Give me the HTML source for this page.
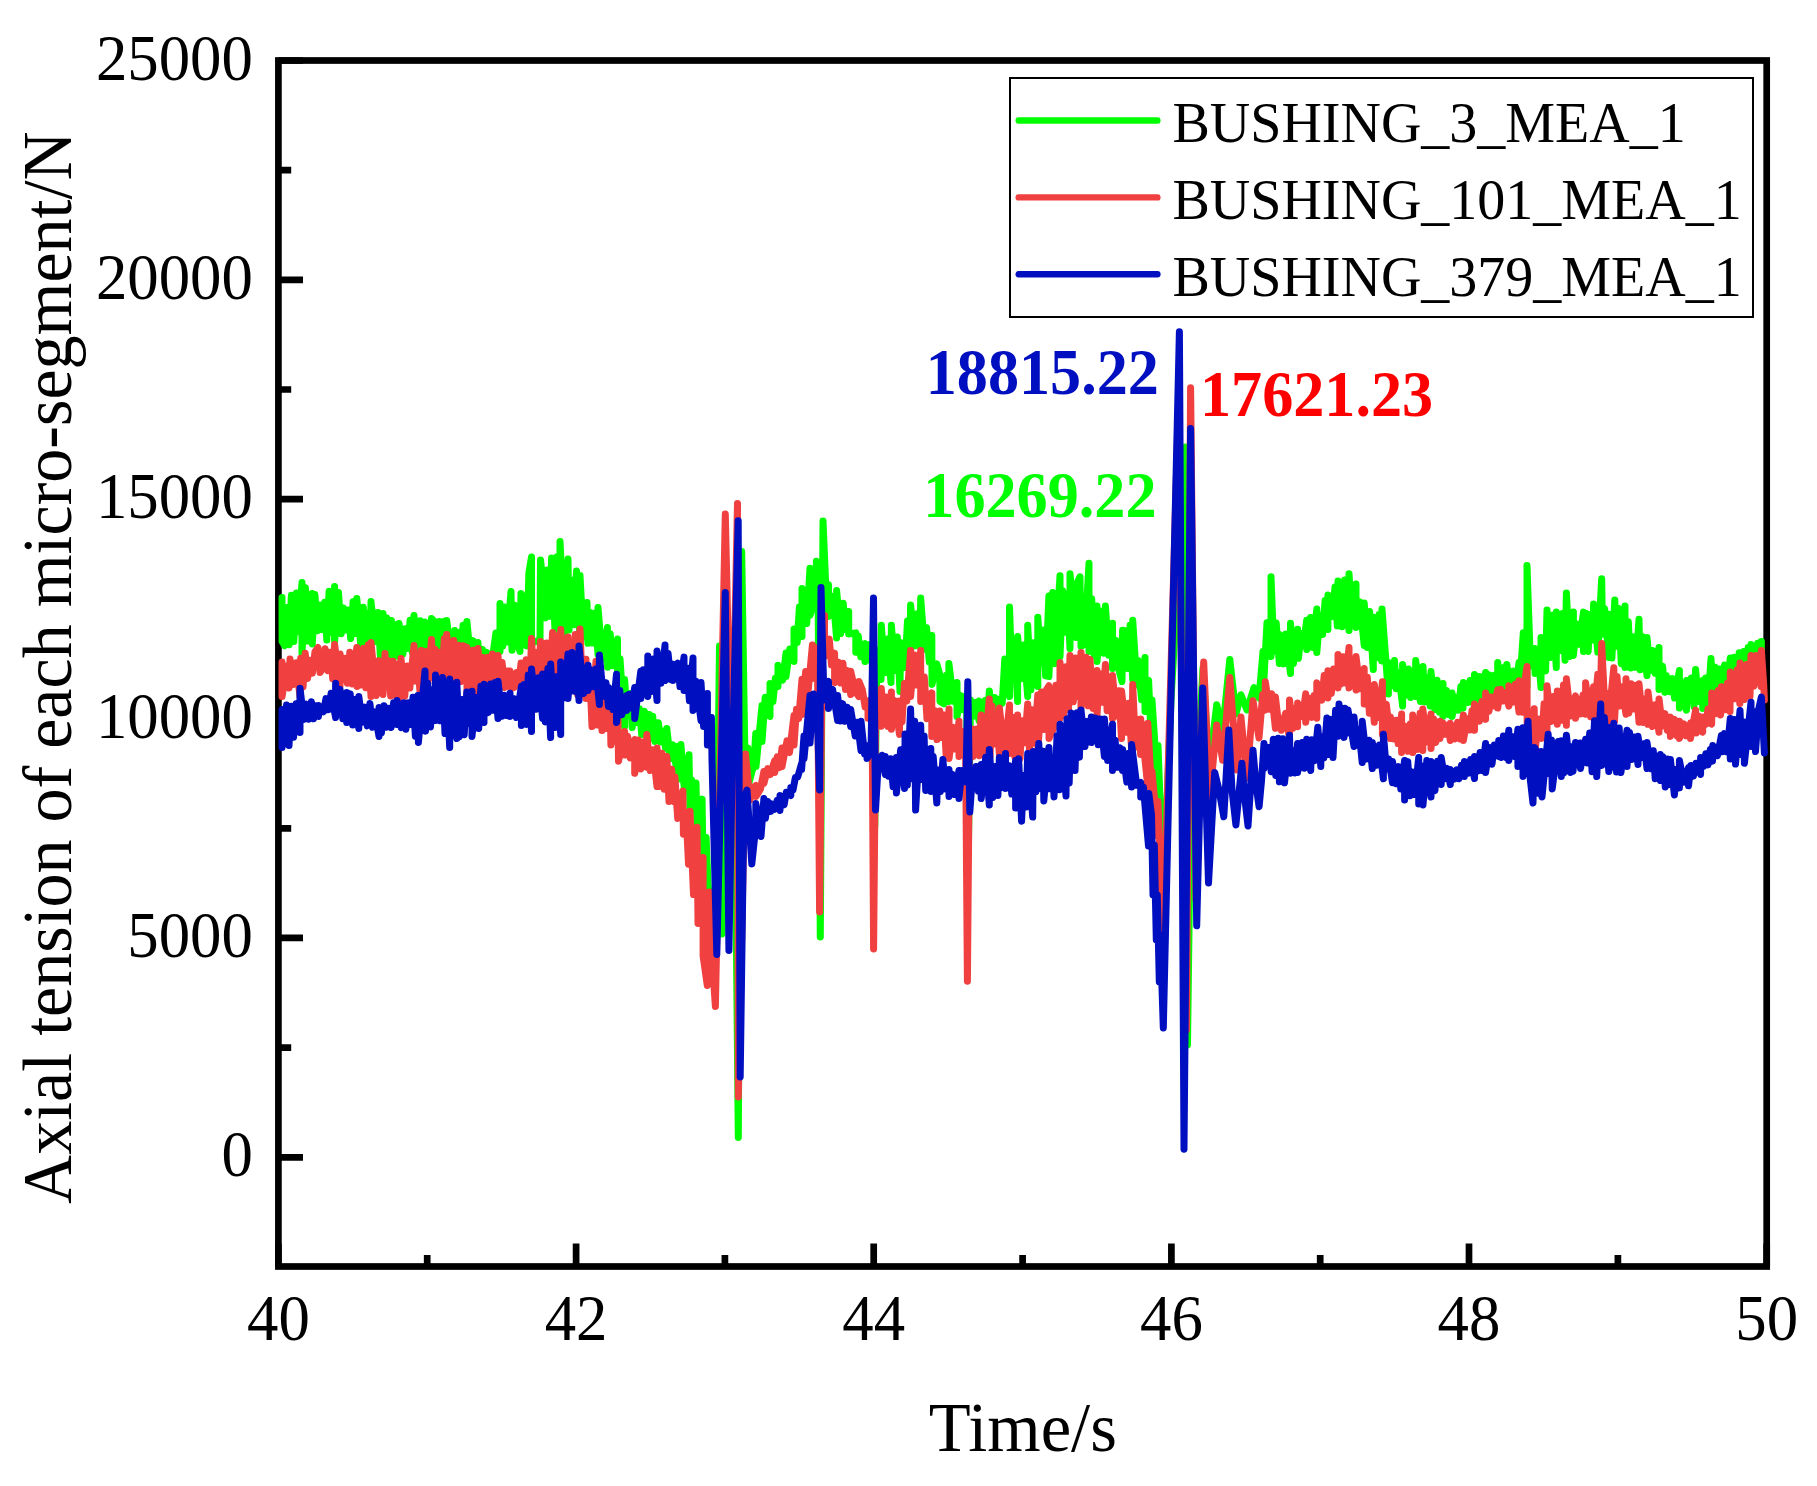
<!DOCTYPE html>
<html><head><meta charset="utf-8"><title>Axial tension of each micro-segment</title>
<style>
html,body{margin:0;padding:0;background:#fff;}
svg{display:block;}
text{font-family:"Liberation Serif",serif;fill:#000;}
.tk{font-size:62.8px;}
.ax{font-size:68.6px;}
.lg{font-size:56.0px;}
.an{font-size:62.2px;font-weight:bold;}
.c{fill:none;stroke-width:7.0;stroke-linejoin:round;stroke-linecap:round;}
</style></head><body>
<svg width="1817" height="1486" viewBox="0 0 1817 1486">
<rect x="0" y="0" width="1817" height="1486" fill="#fff"/>
<rect x="278.4" y="60.5" width="1488.3" height="1206.0" fill="none" stroke="#000" stroke-width="6.7"/>
<path d="M278.4,1157.3 H303 M278.4,937.9 H303 M278.4,718.6 H303 M278.4,499.2 H303 M278.4,279.9 H303 M278.4,60.5 H303 M278.4,1047.6 H291.2 M278.4,828.3 H291.2 M278.4,608.9 H291.2 M278.4,389.5 H291.2 M278.4,170.2 H291.2 M278.4,1266.5 V1243.4 M576.1,1266.5 V1243.4 M873.7,1266.5 V1243.4 M1171.4,1266.5 V1243.4 M1469.0,1266.5 V1243.4 M1766.7,1266.5 V1243.4 M427.2,1266.5 V1255 M724.9,1266.5 V1255 M1022.6,1266.5 V1255 M1320.2,1266.5 V1255 M1617.9,1266.5 V1255" stroke="#000" stroke-width="6.7" fill="none"/>
<polyline class="c" stroke="#00ff00" points="282.0,597.5 282.0,597.5 282.1,641.5 284.6,645.7 286.9,607.6 289.1,644.8 291.4,595.3 293.8,641.6 296.5,593.0 298.6,631.7 302.0,582.5 302.0,653.5 305.4,587.8 307.7,641.1 312.0,593.5 312.3,644.1 314.9,594.5 317.4,630.7 319.8,604.9 322.1,629.7 324.7,602.3 326.8,640.0 329.1,591.2 331.6,632.5 334.6,586.5 334.6,641.5 338.5,592.4 341.2,633.7 343.4,608.1 346.0,630.1 348.2,610.0 350.7,638.6 353.1,601.7 355.7,633.6 356.8,598.5 360.7,644.4 363.3,607.2 365.7,642.6 368.0,613.1 370.5,647.8 371.0,601.5 375.3,641.4 377.9,612.4 380.4,656.6 383.0,613.5 383.0,657.5 386.8,618.1 389.0,655.1 391.4,620.6 393.5,656.8 395.7,624.8 398.1,656.6 399.0,623.5 402.9,654.1 405.4,628.7 407.7,648.4 410.1,620.3 412.4,652.6 414.0,615.5 417.6,653.0 420.2,620.7 422.7,654.1 424.8,622.1 427.4,651.5 430.0,661.5 431.5,618.5 434.5,621.7 436.8,660.6 439.3,621.6 441.6,648.6 443.7,621.4 446.4,653.5 446.7,620.5 451.3,657.2 454.7,630.5 456.1,656.3 458.3,632.5 460.8,650.0 463.1,625.3 465.8,647.8 466.9,621.5 470.6,658.7 473.2,640.6 475.5,653.0 478.0,642.5 478.0,658.5 482.4,649.4 484.7,656.9 486.8,652.4 488.9,660.0 492.0,656.5 492.0,661.5 495.9,633.0 500.0,651.5 500.0,603.5 502.7,646.0 504.8,607.1 507.2,642.1 511.0,591.5 512.0,650.2 514.5,605.2 517.0,642.3 520.0,651.5 521.0,593.5 524.0,599.2 526.6,645.9 528.9,572.8 531.5,557.0 531.6,642.8 536.2,641.3 540.0,641.5 540.5,560.0 543.1,583.1 545.3,617.9 547.4,569.9 550.0,616.3 551.6,558.0 555.0,630.0 557.1,556.8 560.0,636.5 560.0,541.5 564.6,633.3 568.0,559.1 569.0,630.0 571.6,580.2 574.2,624.8 576.5,570.9 580.0,638.5 580.0,575.5 583.3,637.1 587.0,602.5 587.9,643.3 590.3,612.6 592.8,643.1 595.2,613.1 598.0,654.5 598.0,607.5 602.3,659.3 607.4,627.5 607.6,667.3 610.2,633.8 612.8,665.7 617.5,639.0 617.5,686.5 620.0,658.8 624.6,726.5 624.6,679.5 627.1,715.9 630.7,693.5 632.2,727.5 634.8,706.4 637.2,722.5 639.5,708.8 641.7,734.6 644.4,711.3 646.8,734.0 649.1,714.5 651.2,738.5 652.7,716.3 655.0,741.5 658.4,722.7 660.6,742.0 663.2,731.4 665.6,748.3 666.8,728.5 670.2,758.5 672.7,744.8 677.0,771.5 677.7,746.4 680.1,779.1 680.9,744.5 684.5,791.0 689.0,754.7 690.0,811.5 691.6,780.1 694.2,808.3 696.0,782.9 697.0,831.5 702.1,799.1 703.0,866.5 706.1,837.4 709.0,906.5 711.0,890.0 713.0,928.0 716.0,935.0 719.5,646.0 722.0,934.0 726.0,800.0 731.5,735.0 735.0,800.0 738.3,1137.5 741.7,551.5 745.0,762.0 747.8,748.0 748.0,786.5 753.7,765.2 755.8,733.5 756.0,766.5 762.0,705.5 762.0,741.5 765.2,697.3 770.0,716.5 770.0,683.5 772.9,701.8 775.4,678.2 778.0,686.5 778.0,665.2 782.7,680.1 786.0,653.1 786.0,676.5 789.8,649.1 794.0,661.5 794.0,628.9 797.2,642.5 799.4,607.0 802.0,636.5 802.0,588.5 806.7,623.6 810.0,568.3 810.0,615.5 816.0,596.5 816.4,561.2 818.0,578.0 820.3,937.0 823.0,521.0 826.0,592.0 828.5,584.5 828.5,616.5 833.1,596.2 836.6,638.0 836.6,590.5 840.6,633.6 843.2,603.2 845.6,629.6 848.7,611.5 848.7,634.0 855.8,632.9 855.8,652.2 858.2,635.8 860.8,656.8 865.0,643.5 865.0,661.5 868.1,644.7 870.6,660.4 873.0,650.0 874.8,826.0 877.0,650.0 881.0,679.5 881.3,625.3 884.8,672.7 887.4,639.1 891.0,682.5 891.4,625.3 894.7,670.5 897.3,637.0 900.0,691.5 900.5,642.5 905.0,667.5 907.5,621.0 910.0,646.5 910.6,605.1 914.6,645.9 917.2,613.7 920.0,646.5 920.7,598.0 924.5,649.2 926.6,627.8 929.3,662.1 931.8,635.4 932.0,684.5 936.8,663.9 939.8,674.5 940.0,701.5 943.9,703.8 946.5,675.2 948.7,701.4 948.9,663.5 953.4,701.3 957.0,682.5 957.0,716.5 961.1,695.6 963.7,709.7 966.0,696.2 966.5,700.0 968.4,847.5 970.5,700.0 973.4,716.2 975.6,702.5 979.0,720.5 979.0,701.0 983.2,720.5 985.5,700.3 987.6,718.5 989.3,690.9 992.2,718.8 994.7,697.6 999.0,721.5 999.4,699.0 1002.2,703.4 1004.8,659.0 1009.5,696.5 1009.5,607.1 1012.1,679.4 1014.2,639.2 1017.6,701.5 1017.6,636.4 1021.1,678.7 1023.6,645.1 1027.7,696.5 1027.7,625.3 1030.9,689.7 1033.4,642.8 1037.8,686.5 1037.8,617.2 1040.5,662.7 1043.0,630.0 1045.6,675.9 1048.9,596.0 1048.9,676.5 1052.7,592.4 1054.8,663.7 1060.0,575.8 1060.0,656.5 1062.7,590.7 1065.2,632.3 1067.6,593.9 1070.0,648.5 1070.0,573.8 1076.0,637.5 1076.9,583.5 1080.0,576.8 1081.0,646.5 1084.5,644.3 1089.0,563.3 1089.0,651.5 1091.7,598.8 1094.2,655.4 1097.0,606.1 1097.0,661.5 1101.5,611.3 1103.7,653.3 1105.4,606.1 1108.8,655.3 1112.5,623.3 1112.5,668.5 1115.9,640.5 1118.1,666.6 1122.0,681.5 1122.6,630.3 1125.1,630.7 1127.6,668.5 1130.1,625.2 1132.7,679.5 1132.7,620.2 1136.9,684.9 1138.0,660.5 1141.6,699.7 1145.0,657.5 1145.0,711.5 1148.6,680.6 1152.0,756.5 1152.0,700.0 1158.0,791.5 1158.0,745.5 1160.0,800.0 1163.5,869.0 1167.5,790.0 1171.0,700.0 1185.5,447.0 1187.5,1045.0 1192.0,700.0 1198.0,760.0 1203.0,668.0 1209.0,770.0 1216.7,704.8 1222.7,730.0 1229.8,659.4 1235.9,714.0 1240.9,694.7 1247.0,710.0 1254.0,687.6 1259.0,698.0 1263.0,651.5 1263.0,696.5 1267.0,622.7 1271.0,656.5 1271.0,576.8 1273.9,651.2 1276.2,623.1 1279.4,663.5 1279.4,634.4 1283.6,663.9 1285.8,634.1 1290.5,673.5 1290.5,623.3 1293.4,663.7 1297.6,629.3 1298.4,658.3 1301.1,633.5 1303.4,645.2 1306.7,620.2 1306.7,649.5 1310.6,617.5 1312.8,647.5 1316.8,609.1 1316.8,652.5 1320.0,615.0 1322.6,634.6 1325.1,600.6 1327.9,629.5 1327.9,595.0 1332.4,616.6 1335.0,587.1 1337.3,626.0 1338.0,580.9 1342.1,626.7 1344.7,580.0 1349.0,630.5 1349.0,573.8 1352.1,622.1 1356.0,583.9 1356.0,627.5 1359.7,601.6 1364.2,645.5 1364.2,603.1 1367.3,647.6 1369.6,611.6 1373.3,669.5 1373.3,617.2 1376.5,657.6 1379.1,614.4 1381.6,660.9 1382.0,609.1 1388.4,694.0 1388.4,662.5 1391.7,685.8 1394.5,660.5 1396.2,688.7 1398.8,672.7 1402.6,706.1 1402.6,664.5 1406.2,695.3 1408.6,669.1 1410.7,697.5 1412.9,671.3 1415.6,696.4 1415.7,660.5 1420.4,701.4 1423.0,666.5 1424.8,702.1 1427.6,677.7 1430.2,705.9 1431.0,671.5 1434.8,709.6 1437.1,680.3 1439.5,712.3 1443.0,683.5 1443.0,716.5 1446.6,690.5 1449.1,714.7 1452.0,692.9 1452.0,716.5 1456.0,697.4 1458.3,710.2 1460.9,686.4 1463.0,708.2 1463.4,682.5 1467.8,702.5 1470.1,680.4 1474.5,708.5 1474.5,674.5 1477.3,706.3 1479.7,676.5 1482.3,698.7 1485.6,672.5 1487.2,701.6 1489.4,675.1 1491.8,694.4 1494.3,675.3 1497.7,696.5 1497.7,662.5 1501.4,692.2 1503.8,667.4 1506.1,689.5 1506.8,664.5 1511.2,695.1 1513.6,671.0 1515.8,689.3 1519.0,662.5 1519.0,696.5 1523.3,632.8 1527.0,686.5 1527.0,565.5 1530.5,666.0 1535.0,648.5 1535.0,673.5 1538.1,651.2 1541.0,687.5 1541.0,637.5 1545.6,670.9 1547.0,610.1 1550.6,657.4 1553.1,614.9 1556.3,667.5 1556.3,612.1 1559.9,650.6 1562.5,613.5 1565.1,660.2 1566.4,593.0 1569.6,656.4 1573.4,612.1 1573.4,655.5 1576.8,623.9 1579.0,644.2 1583.5,612.1 1583.5,651.5 1585.8,613.3 1588.1,651.4 1590.5,614.3 1593.1,639.9 1593.6,604.1 1597.8,652.1 1601.7,578.8 1602.5,634.3 1604.6,608.7 1608.8,657.5 1608.8,614.2 1611.9,658.0 1614.8,600.0 1616.4,646.3 1618.6,608.5 1621.3,663.7 1625.0,606.1 1625.0,667.5 1628.3,621.8 1630.7,668.1 1632.0,636.4 1635.7,667.3 1639.0,619.2 1640.2,669.8 1642.7,636.7 1647.0,675.5 1647.0,637.5 1650.2,670.5 1652.7,650.4 1655.2,673.3 1659.0,647.5 1659.0,689.5 1662.6,666.3 1664.9,692.2 1666.3,675.5 1669.6,691.6 1672.2,678.5 1674.5,698.1 1679.4,670.5 1679.4,708.1 1681.9,683.6 1686.5,710.1 1686.5,680.5 1688.9,699.8 1691.4,678.0 1693.9,706.5 1695.6,669.5 1698.6,701.4 1702.7,680.5 1702.7,708.5 1705.7,677.9 1708.0,704.2 1711.0,658.5 1712.8,694.6 1715.2,667.3 1717.5,688.8 1720.0,669.0 1720.0,696.5 1724.6,665.0 1726.8,686.5 1730.3,657.9 1732.1,689.2 1734.3,657.3 1736.7,685.0 1739.2,652.7 1740.0,686.5 1743.7,651.5 1746.0,683.6 1748.2,647.5 1750.7,680.6 1751.0,644.5 1755.3,673.0 1757.7,643.2 1761.0,676.5 1761.4,641.5"/>
<polyline class="c" stroke="#f04040" points="282.0,662.0 282.0,696.5 282.0,662.0 282.1,696.5 286.7,666.0 289.1,688.0 290.0,659.0 293.9,684.4 296.3,662.8 300.0,696.5 300.7,658.3 303.1,686.8 305.2,653.3 307.6,678.5 309.9,660.2 312.4,673.1 315.0,651.7 318.0,647.5 320.0,672.5 322.6,668.5 325.2,648.8 327.8,670.7 330.5,652.4 332.7,678.8 334.6,644.5 340.0,686.5 340.1,654.1 342.6,679.6 344.8,658.3 347.3,683.2 349.8,652.2 352.3,683.9 356.8,647.5 357.0,686.5 359.0,650.4 361.4,684.9 363.7,648.2 365.8,687.7 368.4,644.7 371.0,696.5 371.0,642.5 376.2,695.5 378.5,660.7 383.0,694.5 385.0,653.5 385.6,683.1 388.2,660.7 390.7,696.0 393.0,661.3 395.5,695.5 397.7,663.9 399.0,698.5 401.0,658.5 404.7,696.2 407.2,666.1 409.8,688.1 414.0,645.5 414.7,681.0 416.9,654.9 420.0,691.5 421.2,650.4 423.4,689.7 425.6,651.4 427.9,682.7 431.5,639.5 432.9,677.6 435.0,649.2 437.2,684.0 439.5,652.2 442.0,682.1 444.3,638.8 445.0,686.5 446.7,634.5 451.3,682.3 453.8,640.5 456.1,686.5 458.7,645.2 461.0,681.5 463.3,645.8 466.9,647.5 467.0,698.5 470.7,685.1 473.1,650.3 475.6,695.1 478.0,648.5 480.7,689.4 482.9,657.6 485.3,683.1 487.7,657.3 490.0,696.5 492.4,653.9 495.0,684.9 498.0,655.5 499.7,685.9 502.1,662.5 504.8,687.6 507.2,671.0 510.0,671.1 511.0,688.5 514.6,687.2 516.7,672.5 519.0,682.9 521.0,663.0 523.8,677.6 526.1,659.8 530.0,686.5 531.5,638.5 533.8,679.9 536.2,652.8 538.7,677.9 540.5,641.5 544.0,674.5 546.6,642.9 550.0,676.5 552.6,632.5 554.1,677.8 556.5,636.1 560.0,686.5 560.7,629.5 563.6,678.5 568.0,636.9 568.0,682.8 570.6,645.8 573.1,675.4 575.3,634.4 577.6,694.6 580.0,628.9 582.5,694.4 586.0,659.2 586.0,698.5 589.6,669.2 592.0,726.5 596.0,661.2 597.0,725.0 599.6,683.7 602.0,730.5 604.1,685.1 606.3,728.6 610.0,693.5 610.9,744.9 613.2,716.9 615.6,741.2 617.9,715.1 618.5,761.2 624.6,731.5 624.6,755.1 627.6,736.2 630.2,757.9 634.7,739.5 634.7,773.3 638.2,740.1 640.7,768.9 642.9,742.0 646.8,767.2 646.8,734.5 650.3,770.6 652.9,749.7 657.0,786.5 657.0,748.0 659.9,786.4 662.0,753.2 664.3,789.2 666.8,756.5 669.0,801.5 671.6,769.2 674.2,801.8 674.9,776.9 677.7,818.5 682.9,791.0 683.4,834.3 686.0,812.3 688.5,864.2 690.0,811.2 693.5,894.5 697.0,827.3 698.0,923.5 703.1,857.5 703.1,956.0 707.3,985.5 709.2,891.9 711.5,950.0 715.4,1006.5 725.3,514.0 731.5,790.0 737.5,503.5 738.3,1097.0 745.5,754.0 750.0,800.0 752.8,787.7 755.8,785.5 756.0,796.5 760.4,789.2 763.9,771.5 763.9,783.5 767.7,768.6 770.2,774.6 774.7,760.5 774.7,772.5 777.3,756.9 779.5,767.6 782.0,748.0 782.0,766.5 787.0,740.9 789.5,752.6 794.0,715.5 794.0,745.0 796.5,709.2 798.7,718.6 802.0,679.3 802.0,714.5 805.7,671.4 808.3,689.7 812.4,645.0 812.4,678.5 815.0,647.4 817.5,665.0 819.6,912.0 822.5,628.0 824.5,615.5 824.5,656.5 829.3,639.2 831.5,664.9 834.6,653.1 834.6,682.5 838.5,662.2 840.7,683.1 842.9,663.2 845.5,689.5 847.8,670.6 850.7,694.5 850.7,671.3 855.2,691.1 858.8,696.5 859.0,681.5 862.4,690.1 865.1,707.0 868.0,701.0 868.0,718.2 872.0,705.0 873.6,949.0 875.8,705.0 876.8,698.5 881.3,726.3 881.3,688.5 883.6,717.6 885.7,697.1 888.1,726.4 891.4,691.9 891.4,729.3 895.1,700.7 899.5,734.4 899.5,701.0 902.0,721.7 904.5,683.5 906.8,701.1 910.6,650.5 910.6,696.5 914.6,655.0 917.1,685.1 920.7,650.5 920.7,701.5 924.3,676.9 927.0,718.7 931.8,692.9 931.8,736.5 934.4,710.5 937.0,739.6 939.8,711.1 941.7,737.6 943.9,715.0 946.1,754.8 949.0,709.1 949.0,758.5 953.4,727.4 955.5,749.1 959.0,721.2 959.0,756.5 963.0,731.5 965.5,735.0 967.4,981.3 969.5,735.0 973.0,729.2 973.0,756.5 977.0,729.1 979.4,755.7 981.0,715.1 984.4,755.0 989.3,699.0 990.0,756.5 992.0,706.0 994.4,744.0 996.8,720.9 999.4,754.5 999.4,708.0 1004.6,752.6 1009.5,705.0 1009.8,753.4 1012.4,717.3 1014.9,756.8 1017.6,715.1 1020.0,758.5 1022.2,720.7 1024.5,742.8 1027.7,704.0 1029.5,750.9 1031.7,709.7 1034.1,743.3 1037.8,694.9 1038.0,748.5 1041.6,691.9 1043.7,729.6 1045.8,690.9 1048.9,685.8 1049.0,738.5 1053.4,728.9 1056.0,685.2 1060.0,718.5 1060.0,662.5 1063.5,715.5 1066.1,666.8 1068.5,709.4 1070.0,655.5 1073.3,701.8 1075.5,658.0 1078.2,696.5 1081.0,652.5 1081.0,708.5 1085.9,657.3 1088.2,705.8 1090.0,659.5 1093.2,708.4 1097.0,670.5 1097.0,714.5 1100.0,673.8 1102.6,702.3 1105.4,664.5 1107.1,710.7 1109.5,677.6 1112.5,718.5 1112.5,675.5 1116.3,716.1 1118.9,690.8 1121.5,738.5 1121.5,690.9 1126.3,732.2 1128.6,703.2 1132.0,754.5 1132.7,684.5 1135.5,747.0 1138.1,719.4 1140.7,754.5 1140.7,719.1 1147.8,786.5 1147.8,723.2 1152.0,799.0 1152.0,771.5 1158.0,836.5 1158.0,801.5 1160.0,860.0 1163.3,940.0 1178.0,420.0 1186.5,1030.0 1190.6,387.7 1196.0,900.0 1203.7,662.0 1209.6,798.5 1216.7,725.0 1222.7,760.3 1229.8,677.5 1236.9,770.0 1240.9,716.9 1247.0,778.0 1253.0,700.7 1259.0,738.0 1262.7,694.6 1265.3,710.1 1265.3,681.8 1269.5,709.3 1271.7,693.8 1275.4,728.3 1275.4,696.9 1278.5,723.5 1281.4,719.1 1281.4,730.3 1285.6,713.3 1289.5,738.5 1289.5,700.0 1293.0,728.2 1295.2,708.6 1297.6,726.7 1297.6,703.0 1302.5,716.7 1305.7,693.9 1305.7,722.2 1309.5,698.2 1312.0,717.4 1314.1,695.5 1316.8,718.2 1316.8,682.8 1321.8,700.2 1324.2,675.6 1327.9,698.0 1327.9,670.7 1331.3,693.6 1333.6,669.0 1338.0,687.9 1338.0,654.5 1340.8,684.0 1343.1,656.7 1345.4,683.0 1349.0,647.5 1349.0,687.9 1352.7,660.7 1356.0,689.9 1356.0,656.5 1360.0,688.8 1364.2,668.5 1364.2,704.1 1367.3,677.2 1369.4,713.3 1371.8,691.7 1374.3,722.2 1374.3,684.5 1379.1,717.5 1382.4,681.8 1382.4,734.4 1386.3,704.1 1390.4,738.5 1390.4,717.1 1393.9,739.0 1396.1,720.2 1398.2,743.6 1401.6,714.1 1401.6,752.5 1405.3,726.3 1408.0,751.3 1410.2,724.1 1412.7,752.5 1412.7,715.1 1417.6,749.4 1420.1,713.2 1422.8,750.5 1422.8,709.1 1427.0,742.1 1431.0,714.1 1431.0,748.5 1433.7,718.9 1435.8,742.4 1440.0,721.2 1440.0,738.5 1442.8,722.7 1445.2,734.2 1447.8,725.1 1450.3,740.5 1450.3,723.2 1455.0,738.9 1457.6,722.3 1460.1,738.9 1463.4,715.1 1463.4,740.5 1467.2,718.6 1469.9,730.0 1472.0,710.7 1474.5,730.3 1474.5,704.0 1479.4,721.2 1481.9,701.4 1485.6,719.2 1485.6,692.9 1489.0,711.2 1491.4,697.0 1493.9,705.8 1497.7,689.9 1497.7,708.1 1500.7,689.3 1503.3,701.0 1505.8,692.5 1508.8,706.1 1508.8,685.8 1512.9,702.1 1515.4,684.3 1519.0,712.1 1519.0,680.8 1522.4,712.2 1524.6,683.0 1527.0,666.5 1527.2,729.8 1531.9,734.8 1534.2,708.8 1535.0,750.5 1539.0,719.1 1541.7,738.4 1544.1,703.8 1547.0,736.4 1547.0,685.8 1551.0,721.4 1553.5,696.5 1557.3,724.3 1557.3,690.9 1561.0,720.4 1563.5,685.1 1566.4,725.3 1566.4,678.8 1570.6,716.0 1575.5,695.9 1575.5,718.2 1578.1,699.2 1580.4,714.0 1583.0,695.0 1585.6,714.2 1585.6,682.8 1590.6,716.7 1593.6,686.8 1593.6,718.2 1597.8,674.3 1600.0,711.1 1601.7,643.5 1605.0,711.3 1607.8,693.5 1607.8,728.3 1613.8,667.7 1614.5,721.0 1617.0,676.6 1619.4,706.0 1621.6,686.8 1626.0,714.2 1626.0,678.8 1628.8,712.9 1631.1,683.7 1633.8,708.9 1636.1,685.2 1639.0,722.2 1639.0,683.8 1643.1,722.5 1645.6,698.8 1648.0,724.3 1648.0,691.9 1652.4,726.6 1655.1,704.7 1659.0,732.3 1659.0,699.0 1662.4,726.1 1665.0,713.6 1667.3,730.4 1670.4,717.1 1670.4,736.4 1674.5,719.4 1677.1,736.0 1679.4,721.2 1679.4,738.5 1683.8,723.9 1686.2,735.7 1690.5,723.2 1690.5,738.5 1695.6,710.1 1696.2,733.0 1698.5,716.0 1702.7,732.3 1702.7,717.1 1705.9,724.2 1708.0,709.0 1711.7,724.3 1711.7,692.9 1715.6,713.8 1718.2,690.6 1720.5,715.0 1721.4,686.7 1725.3,709.8 1727.4,683.2 1730.0,711.5 1730.3,671.9 1734.8,698.7 1737.2,669.8 1739.8,703.4 1740.0,663.0 1744.4,699.6 1746.6,664.4 1750.0,696.5 1751.0,655.5 1753.7,686.1 1756.2,655.6 1761.0,686.5 1761.4,650.5 1763.7,684.5 1764.4,700.0"/>
<polyline class="c" stroke="#0010c0" points="282.0,709.5 282.0,747.5 282.0,709.5 282.1,747.5 286.5,705.0 289.0,745.5 291.1,706.3 293.6,737.2 296.2,703.7 300.0,732.5 300.0,688.2 303.8,719.6 306.4,704.1 308.7,719.3 311.4,701.8 313.6,718.8 315.9,705.7 318.5,716.5 318.5,705.5 323.3,711.7 326.0,698.6 328.6,709.7 331.1,693.2 335.6,717.5 335.6,683.2 338.0,712.2 340.1,689.5 342.8,718.8 346.7,692.5 346.7,722.5 350.2,693.9 352.7,724.9 355.0,699.5 358.8,728.5 358.8,696.5 362.2,722.2 364.7,707.1 367.3,725.9 369.9,703.4 372.5,727.3 374.7,711.9 379.0,736.5 379.0,707.5 381.4,732.9 384.0,705.7 386.5,727.3 388.8,708.2 391.2,727.5 393.6,702.8 397.0,724.5 397.0,700.5 401.3,727.6 403.7,702.7 405.9,729.2 408.3,702.8 410.6,724.5 413.0,697.2 415.4,736.4 418.0,695.5 418.4,742.5 425.0,671.1 425.5,731.2 427.8,683.2 430.5,726.9 433.1,689.8 435.5,720.5 435.5,675.1 440.2,720.8 442.5,677.5 445.0,733.6 447.1,694.6 449.7,747.5 449.7,679.1 456.8,738.5 456.8,682.2 459.3,736.8 461.9,699.6 464.2,734.8 466.8,692.1 469.5,723.6 472.0,691.3 472.0,736.5 476.1,697.6 478.7,728.5 480.9,686.3 484.0,722.5 484.0,684.2 488.3,712.6 490.6,684.0 492.8,710.3 495.1,682.5 498.0,718.5 498.0,681.2 502.1,716.2 504.6,695.3 507.0,715.6 510.0,693.3 510.0,716.5 514.2,698.7 516.4,717.5 521.4,686.2 521.4,725.5 524.0,684.4 526.2,724.4 528.3,675.1 531.5,731.5 531.5,669.1 536.0,709.2 538.5,677.8 542.6,718.5 542.6,674.1 545.3,721.9 547.9,668.5 550.6,737.5 550.6,664.0 554.8,727.6 557.2,676.6 560.7,734.5 560.7,662.0 564.7,697.8 568.0,654.1 568.0,698.5 572.1,652.4 574.3,691.2 576.5,664.0 579.0,700.5 579.0,646.0 583.7,693.4 588.0,665.2 588.0,690.5 591.0,669.9 593.4,686.8 595.8,669.1 599.4,704.5 599.4,655.1 603.3,696.3 606.0,682.8 608.5,706.5 608.5,687.5 613.0,709.5 616.5,674.3 616.5,722.5 619.8,690.5 621.9,714.7 626.6,695.5 626.6,710.5 629.2,694.3 631.3,707.9 634.7,687.5 634.7,718.5 640.8,671.3 640.8,698.5 643.3,669.8 647.8,696.5 647.8,656.1 650.7,691.7 653.3,658.9 657.0,700.5 657.0,651.1 661.0,683.3 665.0,645.0 665.0,680.5 668.1,653.5 670.7,679.4 673.0,664.2 673.0,680.5 677.8,663.1 680.0,686.6 684.0,657.1 684.0,690.5 686.9,667.9 689.4,700.7 693.0,658.1 693.0,710.5 695.9,681.0 701.0,720.5 701.0,682.4 703.6,726.6 707.4,693.5 707.4,745.0 711.4,717.5 712.0,760.0 716.8,954.5 725.3,592.5 728.9,950.4 732.5,752.0 738.2,520.7 740.2,1077.0 744.0,800.0 747.0,790.0 751.8,864.0 755.8,826.5 755.8,803.5 761.0,836.5 763.9,798.5 765.4,818.3 767.8,801.5 770.6,811.5 770.6,803.5 774.7,809.2 777.1,800.4 780.0,810.5 780.0,795.5 784.1,804.9 786.3,792.3 790.8,795.5 790.8,787.5 793.0,790.1 795.4,777.4 797.7,777.1 801.6,763.5 801.6,769.5 804.0,735.9 804.0,758.5 810.0,695.5 810.0,743.0 813.6,693.9 817.5,720.0 819.6,790.0 821.0,587.5 824.0,700.0 828.5,681.4 828.5,708.5 832.6,689.4 837.6,720.5 837.6,695.5 840.3,721.0 842.7,703.6 845.0,721.3 847.3,707.2 850.7,726.5 850.7,709.5 855.2,736.0 857.4,722.3 861.0,750.5 861.0,721.2 864.5,753.8 867.0,745.5 867.0,758.5 871.0,752.0 873.5,598.0 875.5,810.0 878.0,768.0 879.5,764.5 882.0,755.2 885.3,774.5 885.3,756.5 888.5,776.3 890.6,758.7 893.1,786.7 896.4,757.5 896.4,792.9 900.7,749.7 904.5,788.5 905.1,734.0 907.3,785.2 910.6,709.1 912.1,778.8 914.7,721.3 915.6,810.1 920.7,725.2 922.0,779.6 924.1,736.1 925.7,790.5 930.8,748.5 930.9,791.6 933.2,756.4 936.8,803.0 937.9,770.0 940.4,791.5 942.9,759.5 945.4,789.0 949.0,769.5 949.0,796.5 952.2,774.3 954.6,794.6 959.0,770.5 959.0,798.5 961.7,770.6 966.0,782.0 967.8,681.8 969.8,812.0 972.0,782.0 973.5,788.4 976.1,766.4 978.4,791.3 981.2,764.5 981.2,798.5 985.7,757.3 989.3,805.0 989.3,749.5 992.8,797.6 995.2,766.4 997.9,795.5 999.4,757.5 1002.1,787.6 1005.5,753.5 1005.5,788.5 1009.1,765.8 1011.8,794.1 1015.6,760.5 1015.6,808.1 1018.6,758.8 1021.6,821.2 1023.5,775.6 1026.1,807.1 1027.7,753.5 1032.7,817.1 1033.3,751.4 1035.9,791.8 1038.8,743.4 1040.5,788.4 1043.1,751.2 1043.8,801.0 1048.9,747.4 1050.0,788.8 1052.4,758.0 1054.0,796.9 1057.1,735.8 1059.4,789.7 1060.0,724.2 1066.0,795.9 1067.0,718.9 1069.2,783.0 1071.0,713.1 1075.0,770.5 1077.1,712.7 1079.4,757.2 1081.0,710.1 1085.0,746.5 1086.5,721.5 1088.6,742.0 1091.3,717.1 1091.3,742.5 1095.9,718.1 1098.2,744.8 1100.4,718.9 1104.4,756.5 1104.4,719.1 1107.6,760.6 1112.5,724.2 1112.5,770.5 1115.1,740.2 1117.5,767.3 1119.9,747.7 1122.4,770.4 1122.6,749.5 1126.8,782.0 1128.9,753.3 1131.6,786.9 1131.6,744.5 1136.7,785.3 1140.7,782.5 1140.7,796.9 1143.4,787.1 1148.5,846.0 1148.8,793.5 1151.5,815.0 1153.0,895.0 1154.3,845.0 1156.3,940.0 1157.3,895.0 1159.3,982.0 1160.3,935.0 1163.3,1028.0 1179.4,331.7 1184.0,1149.2 1190.6,428.5 1196.7,925.8 1202.7,688.0 1208.5,883.0 1214.7,772.4 1219.0,790.0 1223.8,816.8 1228.8,730.0 1232.0,790.0 1235.9,824.9 1241.9,763.3 1245.0,800.0 1248.0,825.9 1253.0,750.2 1256.0,785.0 1259.1,806.8 1261.5,780.9 1264.0,743.4 1264.0,768.5 1268.7,747.5 1271.2,771.7 1273.3,739.3 1275.8,775.4 1278.3,738.2 1279.4,781.8 1282.8,738.7 1284.5,782.8 1289.5,735.3 1290.4,773.2 1292.7,750.6 1294.9,773.0 1297.6,743.4 1297.6,772.5 1302.2,742.5 1304.3,768.2 1306.7,739.3 1310.7,770.5 1311.7,739.7 1314.4,760.8 1317.8,727.2 1320.8,766.5 1321.1,736.6 1323.8,758.1 1326.9,718.1 1328.1,754.6 1330.7,719.4 1333.0,757.5 1335.6,710.2 1337.9,736.3 1339.0,704.0 1344.0,737.4 1344.7,708.2 1347.0,733.2 1348.0,710.1 1354.0,746.5 1354.0,717.1 1356.7,745.3 1358.9,730.1 1362.2,762.5 1362.2,721.2 1366.5,758.9 1369.2,740.2 1372.3,768.5 1372.3,742.4 1376.8,765.3 1379.4,745.1 1383.4,778.8 1383.4,734.3 1386.3,769.1 1388.7,759.0 1392.5,782.8 1392.5,761.5 1396.2,783.8 1398.7,766.6 1400.8,788.9 1404.6,760.5 1404.6,800.0 1407.8,761.8 1410.0,795.8 1412.1,772.0 1414.8,794.5 1418.7,757.5 1418.7,804.0 1422.0,766.0 1423.0,805.0 1426.8,760.5 1431.0,797.0 1431.0,761.5 1434.9,790.7 1437.6,761.2 1441.2,784.5 1441.2,757.5 1444.8,778.9 1447.1,768.3 1450.3,784.5 1450.3,769.5 1453.9,779.3 1456.6,769.8 1458.9,778.8 1461.4,765.4 1464.4,776.5 1464.4,761.5 1468.4,773.2 1470.6,759.6 1474.5,778.5 1474.5,756.5 1477.8,771.1 1480.1,752.5 1482.3,770.6 1485.6,743.4 1485.6,772.5 1489.5,747.5 1492.0,764.2 1494.3,745.0 1498.7,756.5 1498.7,740.4 1501.3,757.5 1503.4,736.1 1505.9,757.4 1508.8,730.3 1508.8,760.5 1512.9,736.8 1515.0,756.6 1517.9,729.2 1517.9,766.5 1522.9,727.8 1523.0,776.5 1528.0,721.2 1529.8,775.2 1533.0,803.0 1534.5,747.5 1537.0,752.2 1539.1,793.6 1541.0,751.5 1542.0,797.0 1548.2,734.3 1549.3,773.7 1551.4,740.1 1552.2,788.9 1558.3,741.4 1561.3,776.5 1561.5,740.8 1563.7,773.0 1566.4,735.3 1570.4,772.5 1570.7,746.6 1573.0,771.2 1575.5,742.4 1577.8,764.7 1580.2,743.0 1580.5,768.5 1585.6,739.3 1587.2,763.1 1589.7,733.0 1592.1,771.7 1594.5,720.8 1596.7,776.5 1600.7,704.0 1601.7,765.4 1604.3,717.4 1608.8,771.5 1609.3,727.4 1611.5,767.4 1613.8,723.2 1616.5,772.1 1619.2,727.9 1620.9,772.5 1627.0,730.3 1627.0,766.5 1629.5,732.4 1631.9,759.5 1634.3,736.9 1638.0,764.5 1638.0,736.3 1641.3,757.8 1644.0,743.7 1647.0,768.5 1647.0,742.4 1650.8,768.7 1653.3,750.7 1655.2,778.8 1660.3,754.5 1660.5,780.6 1662.8,756.7 1665.3,786.9 1667.4,758.9 1669.8,784.6 1670.4,759.5 1674.4,794.9 1676.8,769.2 1679.4,787.9 1679.4,760.5 1683.7,782.2 1688.5,767.5 1688.5,785.8 1690.9,765.6 1693.4,776.2 1696.0,763.3 1700.6,774.5 1700.6,757.5 1703.4,766.5 1705.8,753.8 1708.0,764.9 1710.3,749.6 1712.5,761.1 1712.8,745.4 1717.4,755.7 1721.4,735.5 1722.2,751.8 1724.4,733.6 1727.0,751.9 1730.3,718.5 1730.3,758.9 1734.3,719.5 1735.5,764.1 1740.0,710.5 1741.8,754.6 1743.9,722.1 1744.4,763.3 1751.0,702.3 1751.1,746.5 1753.7,711.5 1755.5,751.5 1758.6,709.6 1761.4,697.1 1764.4,753.0 1764.4,752.0"/>
<text class="tk" transform="translate(252.9,1176.3) scale(1,1.040)" text-anchor="end">0</text>
<text class="tk" transform="translate(252.9,956.9) scale(1,1.040)" text-anchor="end">5000</text>
<text class="tk" transform="translate(252.9,737.6) scale(1,1.040)" text-anchor="end">10000</text>
<text class="tk" transform="translate(252.9,518.2) scale(1,1.040)" text-anchor="end">15000</text>
<text class="tk" transform="translate(252.9,298.9) scale(1,1.040)" text-anchor="end">20000</text>
<text class="tk" transform="translate(252.9,79.5) scale(1,1.040)" text-anchor="end">25000</text>
<text class="tk" transform="translate(278.4,1340.0) scale(1,1.040)" text-anchor="middle">40</text>
<text class="tk" transform="translate(576.1,1340.0) scale(1,1.040)" text-anchor="middle">42</text>
<text class="tk" transform="translate(873.7,1340.0) scale(1,1.040)" text-anchor="middle">44</text>
<text class="tk" transform="translate(1171.4,1340.0) scale(1,1.040)" text-anchor="middle">46</text>
<text class="tk" transform="translate(1469.0,1340.0) scale(1,1.040)" text-anchor="middle">48</text>
<text class="tk" transform="translate(1766.7,1340.0) scale(1,1.040)" text-anchor="middle">50</text>
<text class="ax" transform="translate(1022.8,1451.2) scale(1,1.030)" text-anchor="middle">Time/s</text>
<text class="ax" transform="translate(70.7,667.7) rotate(-90) scale(1,1.030)" text-anchor="middle" style="font-size:68px">Axial tension of each micro-segment/N</text>
<rect x="1010" y="78" width="743" height="239" fill="#fff" stroke="#000" stroke-width="2"/>
<line x1="1018.7" x2="1157.4" y1="120.5" y2="120.5" stroke="#00ff00" stroke-width="6.4" stroke-linecap="round"/>
<text class="lg" transform="translate(1172.5,142.0) scale(1,1.020)" text-anchor="start">BUSHING_3_MEA_1</text>
<line x1="1018.7" x2="1157.4" y1="197.4" y2="197.4" stroke="#f04040" stroke-width="6.4" stroke-linecap="round"/>
<text class="lg" transform="translate(1172.5,218.9) scale(1,1.020)" text-anchor="start">BUSHING_101_MEA_1</text>
<line x1="1018.7" x2="1157.4" y1="274.3" y2="274.3" stroke="#0010c0" stroke-width="6.4" stroke-linecap="round"/>
<text class="lg" transform="translate(1172.5,295.8) scale(1,1.020)" text-anchor="start">BUSHING_379_MEA_1</text>
<text class="an" transform="translate(925.7,394.0) scale(1,1.060)" text-anchor="start" style="fill:#0010c0">18815.22</text>
<text class="an" transform="translate(1200.0,415.5) scale(1,1.060)" text-anchor="start" style="fill:#ff0000">17621.23</text>
<text class="an" transform="translate(923.3,517.2) scale(1,1.060)" text-anchor="start" style="fill:#00ff00">16269.22</text>
</svg></body></html>
